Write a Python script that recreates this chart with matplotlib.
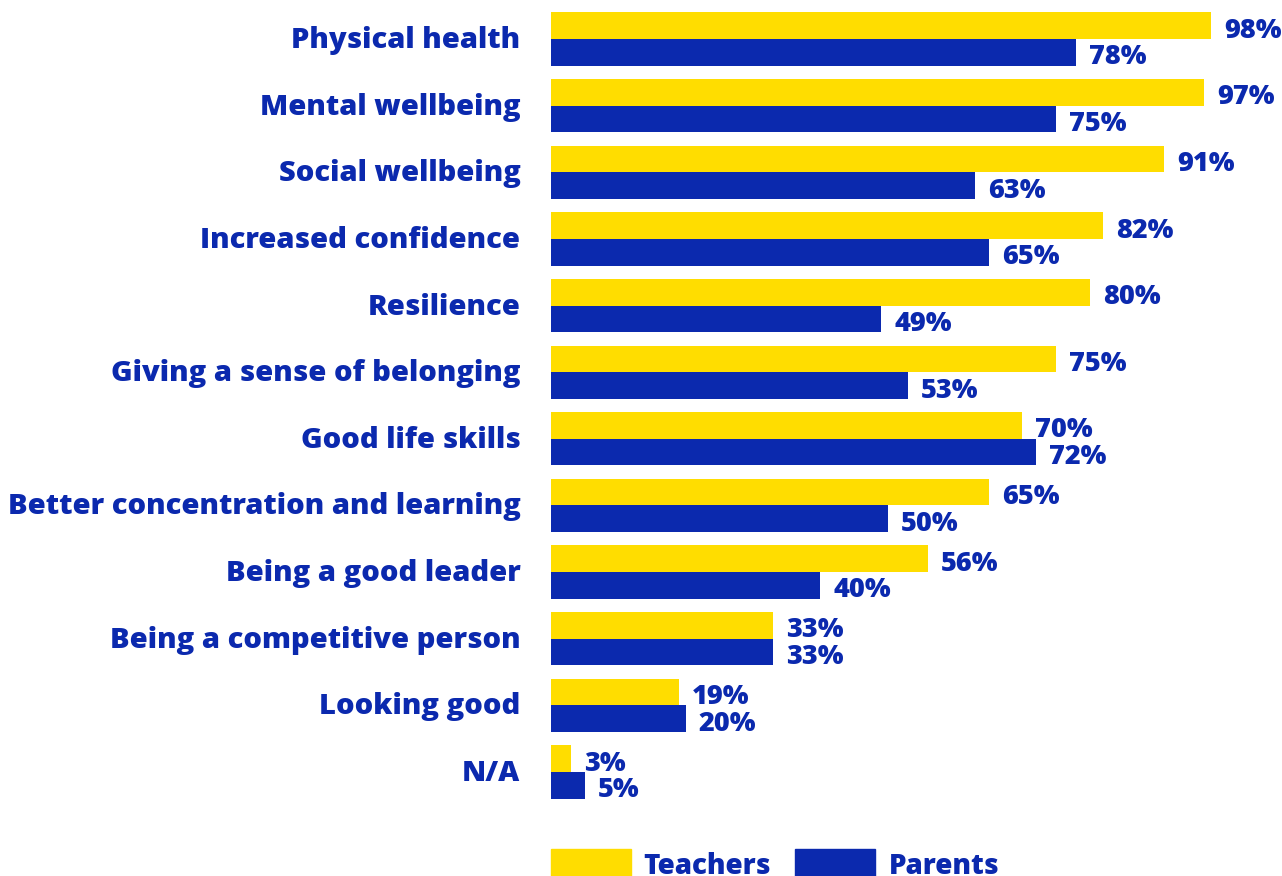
import matplotlib
matplotlib.use("Agg")
import matplotlib.pyplot as plt
from matplotlib.patches import Rectangle
from matplotlib.transforms import ScaledTranslation
import numpy as np

categories = ["Physical health", "Mental wellbeing", "Social wellbeing", "Increased confidence",
              "Resilience", "Giving a sense of belonging", "Good life skills",
              "Better concentration and learning", "Being a good leader",
              "Being a competitive person", "Looking good", "N/A"]
teachers = [98, 97, 91, 82, 80, 75, 70, 65, 56, 33, 19, 3]
parents = [78, 75, 63, 65, 49, 53, 72, 50, 40, 33, 20, 5]
series_names = ["Teachers", "Parents"]

YELLOW = "#FFDD00"
BLUE = "#0B29AE"
FONT = "Open Sans"
WEIGHT = 800

W, H = 1282, 876
fig = plt.figure(figsize=(W / 100, H / 100), dpi=100)
left_px, width_px = 551, 673.5
top_px, bottom_px = 5.65, 805.35
ax = fig.add_axes([left_px / W, 1 - bottom_px / H, width_px / W, (bottom_px - top_px) / H])

y = np.arange(len(categories))
bh = 0.4
ax.barh(y - bh / 2, teachers, height=bh, color=YELLOW, label=series_names[0])
ax.barh(y + bh / 2, parents, height=bh, color=BLUE, label=series_names[1])
ax.set_xlim(0, 100)
ax.set_ylim(len(categories) - 0.5, -0.5)

for i in range(len(categories)):
    ax.annotate(f"{teachers[i]}%", (teachers[i], y[i] - bh / 2), xytext=(13, -5),
                textcoords="offset pixels", va="center", ha="left", fontsize=19.5,
                fontweight=WEIGHT, color=BLUE, family=FONT, clip_on=False)
    ax.annotate(f"{parents[i]}%", (parents[i], y[i] + bh / 2), xytext=(13, -5),
                textcoords="offset pixels", va="center", ha="left", fontsize=19.5,
                fontweight=WEIGHT, color=BLUE, family=FONT, clip_on=False)

ax.set_yticks(y)
ax.set_yticklabels(categories, fontsize=21, fontweight=WEIGHT, color=BLUE, family=FONT)
ax.tick_params(axis="y", length=0, pad=22)
shift = ScaledTranslation(0, 2 / 100, fig.dpi_scale_trans)
for lbl in ax.get_yticklabels():
    lbl.set_transform(lbl.get_transform() + shift)
ax.set_xticks([])
for s in ax.spines.values():
    s.set_visible(False)

def px(x, yy):
    return x / W, 1 - yy / H

for x0, name, col, tx in [(551, series_names[0], YELLOW, 643), (795, series_names[1], BLUE, 889)]:
    fx, fy = px(x0, 876)
    fig.patches.append(Rectangle((fx, fy), 80 / W, 27 / H, transform=fig.transFigure,
                                 color=col))
    tfx, tfy = px(tx, 866)
    fig.text(tfx, tfy, name, fontsize=20, fontweight=WEIGHT, color=BLUE, family=FONT,
             va="center", ha="left")

fig.savefig("out.png", dpi=100)
